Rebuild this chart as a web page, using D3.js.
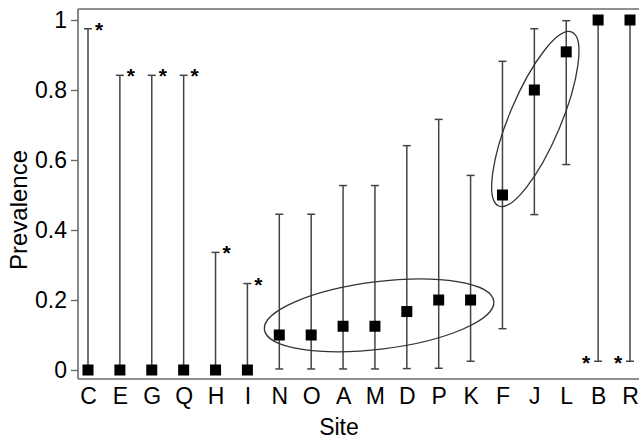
<!DOCTYPE html>
<html>
<head>
<meta charset="utf-8">
<script src="https://cdn.jsdelivr.net/npm/d3@7/dist/d3.min.js"></script>
<style>
  html, body { margin: 0; padding: 0; background: #fff; }
  svg { display: block; }
  text { font-family: "Liberation Sans", Arial, Helvetica, sans-serif; }
</style>
</head>
<body>
<svg id="chart" width="639" height="440"></svg>
<script>
// ---- data ----
const sites      = ["C","E","G","Q","H","I","N","O","A","M","D","P","K","F","J","L","B","R"];
const prevalence = [0, 0, 0, 0, 0, 0, 0.1, 0.1, 0.125, 0.125, 0.167, 0.2, 0.2, 0.5, 0.8, 0.909, 1, 1];
const lowerCI    = [0, 0, 0, 0, 0, 0, 0.003, 0.003, 0.003, 0.003, 0.004, 0.005, 0.025, 0.118, 0.444, 0.587, 0.025, 0.025];
const upperCI    = [0.975, 0.842, 0.842, 0.842, 0.336, 0.247, 0.445, 0.445, 0.527, 0.527, 0.641, 0.716, 0.556, 0.882, 0.975, 0.998, 1, 1];
const starUpper  = ["C","E","G","Q","H","I"];   // asterisk at upper limit
const starLower  = ["B","R"];                   // asterisk at lower limit
const yTicks     = [0, 0.2, 0.4, 0.6, 0.8, 1];
const yTickLabels = ["0", "0.2", "0.4", "0.6", "0.8", "1"];
// ellipse annotations: centre in (site index, prevalence), radii in px, angle in deg
const ellipseCentreIndex = [9.13, 14.03];
const ellipseCentreValue = [0.156, 0.717];
const ellipseRx = [115.6, 94.3];
const ellipseRy = [33.8, 25.8];
const ellipseAngle = [-7.1, -67.2];

// ---- layout ----
const svg = d3.select("#chart");
const frame = { left: 78, top: 9, bottom: 379, right: 640 };

const x = d3.scalePoint().domain(sites).range([88, 630]);
const y = d3.scaleLinear().domain([0, 1]).range([370, 20]);
const xi = d3.scaleLinear().domain([0, sites.length - 1]).range([88, 630]);

const rows = sites.map((s, i) => ({ site: s, p: prevalence[i], lo: lowerCI[i], hi: upperCI[i] }));

// frame (left, top, bottom)
const frameColor = "#6b6b6b";
svg.append("line").attr("x1", frame.left).attr("x2", frame.left).attr("y1", frame.top).attr("y2", frame.bottom)
  .attr("stroke", frameColor).attr("stroke-width", 1.6);
svg.append("line").attr("x1", frame.left).attr("x2", frame.right).attr("y1", frame.top).attr("y2", frame.top)
  .attr("stroke", frameColor).attr("stroke-width", 1.6);
svg.append("line").attr("x1", frame.left).attr("x2", frame.right).attr("y1", frame.bottom).attr("y2", frame.bottom)
  .attr("stroke", frameColor).attr("stroke-width", 1.6);

// y axis
const yAxis = d3.axisLeft(y).tickValues(yTicks).tickSize(7).tickPadding(4)
  .tickFormat((d, i) => yTickLabels[i]);
const yg = svg.append("g").attr("transform", `translate(${frame.left},0)`).call(yAxis);
yg.select(".domain").remove();
yg.selectAll(".tick line").attr("stroke", frameColor).attr("stroke-width", 1.4);
yg.selectAll(".tick text").attr("font-size", 23).attr("fill", "#000")
  .attr("font-family", "'Liberation Sans', Arial, sans-serif");

// x axis
const xAxis = d3.axisBottom(x).tickSize(0).tickPadding(9);
const xg = svg.append("g").attr("transform", `translate(0,${frame.bottom})`).call(xAxis);
xg.select(".domain").remove();
xg.selectAll(".tick text").attr("font-size", 23).attr("fill", "#000")
  .attr("font-family", "'Liberation Sans', Arial, sans-serif");

// axis titles
svg.append("text").attr("x", 339).attr("y", 435).attr("text-anchor", "middle")
  .attr("font-size", 23).text("Site");
svg.append("text").attr("transform", "translate(27,210) rotate(-90)").attr("text-anchor", "middle")
  .attr("font-size", 24).text("Prevalence");

// error bars
const barColor = "#444";
const capHalf = 4;
const eb = svg.append("g");
eb.selectAll("line.v").data(rows).join("line").attr("class", "v")
  .attr("x1", d => x(d.site)).attr("x2", d => x(d.site))
  .attr("y1", d => y(d.lo)).attr("y2", d => y(d.hi))
  .attr("stroke", barColor).attr("stroke-width", 1.5);
eb.selectAll("line.cu").data(rows).join("line").attr("class", "cu")
  .attr("x1", d => x(d.site) - capHalf).attr("x2", d => x(d.site) + capHalf)
  .attr("y1", d => y(d.hi)).attr("y2", d => y(d.hi))
  .attr("stroke", barColor).attr("stroke-width", 1.5);
eb.selectAll("line.cl").data(rows).join("line").attr("class", "cl")
  .attr("x1", d => x(d.site) - capHalf).attr("x2", d => x(d.site) + capHalf)
  .attr("y1", d => y(d.lo)).attr("y2", d => y(d.lo))
  .attr("stroke", barColor).attr("stroke-width", 1.5);

// ellipses
const el = svg.append("g");
ellipseRx.forEach((rx, i) => {
  const cx = xi(ellipseCentreIndex[i]);
  const cy = y(ellipseCentreValue[i]);
  el.append("ellipse").attr("cx", 0).attr("cy", 0).attr("rx", rx).attr("ry", ellipseRy[i])
    .attr("transform", `translate(${cx},${cy}) rotate(${ellipseAngle[i]})`)
    .attr("fill", "none").attr("stroke", "#333").attr("stroke-width", 1.3);
});

// markers
const ms = 11;
svg.append("g").selectAll("rect").data(rows).join("rect")
  .attr("x", d => x(d.site) - ms / 2).attr("y", d => y(d.p) - ms / 2)
  .attr("width", ms).attr("height", ms).attr("fill", "#000");

// asterisks
const st = svg.append("g").attr("font-size", 21).attr("font-weight", "bold").attr("text-anchor", "middle");
rows.filter(d => starUpper.includes(d.site)).forEach(d => {
  st.append("text").attr("x", x(d.site) + 11).attr("y", y(d.hi) + 8).text("*");
});
rows.filter(d => starLower.includes(d.site)).forEach(d => {
  st.append("text").attr("x", x(d.site) - 12).attr("y", y(d.lo) + 9).text("*");
});
</script>
</body>
</html>
